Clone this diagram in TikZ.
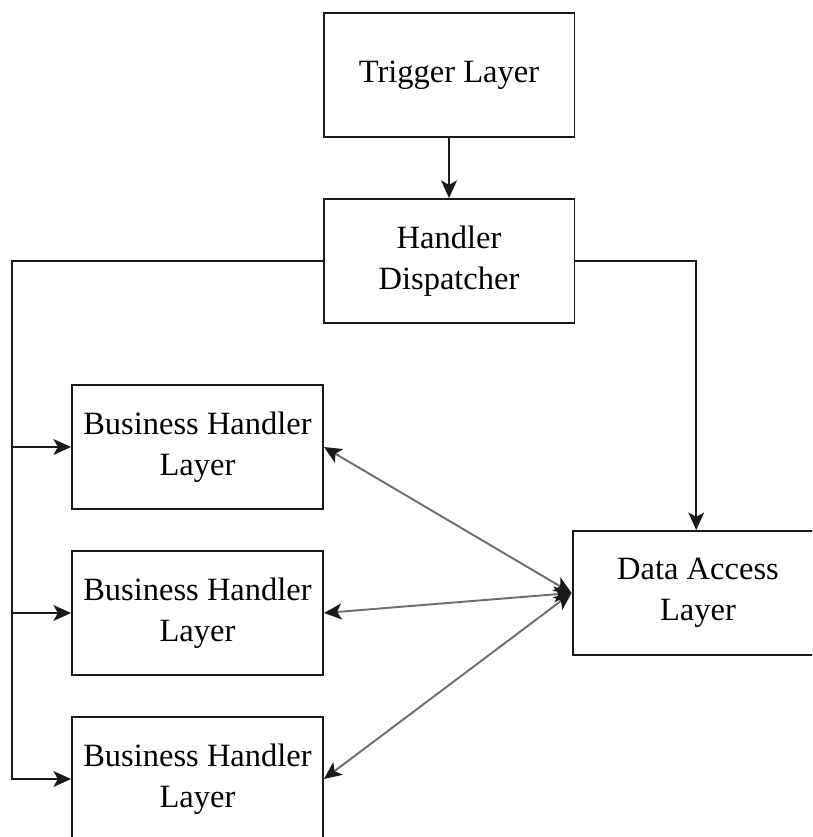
\documentclass[tikz,border=0pt]{standalone}
\usepackage{fontspec}
\setmainfont{Liberation Serif}
\usetikzlibrary{arrows.meta,positioning,calc}
\definecolor{Ink}{HTML}{1A1A1A}
\definecolor{Link}{HTML}{6E6E6E}
\tikzset{
 layer/.style={draw=Ink, line width=1.1pt, fill=white, minimum width=251*0.2mm, minimum height=124*0.2mm, align=center, inner sep=2pt, font=\fontsize{18.5}{23.5}\selectfont},
 arrow/.style={-{Stealth[length=10pt,width=9pt,inset=2.5pt]}, line width=1.1pt, draw=Ink},
 duplex/.style={{Stealth[length=10pt,width=9pt,inset=2.5pt,color=Ink]}-{Stealth[length=10pt,width=9pt,inset=2.5pt,color=Ink]}, line width=1.1pt, draw=Link}
}
\begin{document}
\begin{tikzpicture}[x=0.02cm,y=-0.02cm]
\useasboundingbox (0,0) rectangle (812,837);
\begin{scope}
\clip (0,0) rectangle (812,837);
\node[layer] (trig) at (449,75) {Trigger Layer};
\node[layer] (disp) at (449,261) {Handler\\Dispatcher};
\node[layer] (bh1) at (197.5,447) {Business Handler\\Layer};
\node[layer] (bh2) at (197.5,613) {Business Handler\\Layer};
\node[layer] (bh3) at (197.5,779) {Business Handler\\Layer};
\node[layer] (dal) at (698,593) {Data Access\\Layer};
\coordinate (lbus) at (12,261);
\draw[arrow] (trig) -- (disp);
\draw[arrow] (disp.west) -- (lbus) |- (bh3.west);
\foreach \n in {bh1,bh2} \draw[arrow] (lbus |- \n.west) -- (\n.west);
\draw[arrow] (disp.east) -| ([xshift=-1]dal.north);
\foreach \n in {bh1,bh2,bh3} \draw[duplex] (dal.west) -- (\n.east);
\end{scope}
\end{tikzpicture}
\end{document}
